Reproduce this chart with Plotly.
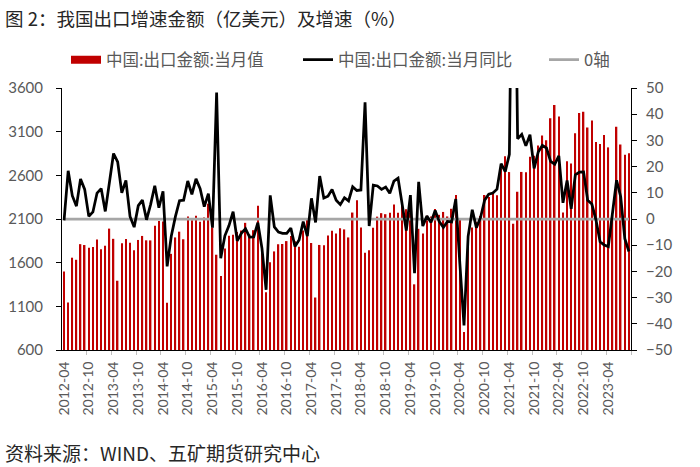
import plotly.graph_objects as go

# Monthly data, 138 months (category index 0..137)
exports = [
    1499, 1144, 1657, 1633, 1812, 1802, 1770, 1780, 1864, 1755, 1794, 1990,
    1873, 1393, 1821, 1870, 1828, 1743, 1860, 1906, 1856, 1855, 2022, 2077,
    2071, 1141, 1701, 1889, 1955, 1868, 2129, 2086, 2136, 2069, 2117, 2275,
    2003, 1691, 1446, 1763, 1907, 1920, 1951, 1968, 2056, 1924, 1972, 2253,
    1775, 1261, 1605, 1729, 1811, 1814, 1847, 1906, 1845, 1781, 1968, 2095,
    1825, 1201, 1803, 1800, 1912, 1966, 1935, 1994, 1981, 1889, 2174, 2315,
    2003, 1713, 1741, 2000, 2127, 2167, 2155, 2172, 2266, 2171, 2274, 2212,
    2176, 1352, 1988, 1934, 2138, 2128, 2215, 2148, 2181, 2129, 2217, 2375,
    2100, 805, 1851, 2003, 2068, 2135, 2375, 2352, 2394, 2372, 2680, 2818,
    2637, 2046, 2412, 2639, 2636, 2814, 2825, 2943, 3057, 3001, 3255, 3405,
    3274, 2173, 2760, 2736, 3082, 3313, 3329, 3149, 3227, 2983, 2959, 3061,
    2920, 2143, 3155, 2954, 2835, 2853,
]
yoy = [
    -0.5, 18.4, 8.9, 4.9, 15.3, 11.3, 1.0, 2.7, 9.9, 11.6, 2.9, 14.1,
    25.0, 21.8, 10.0, 14.7, 1.0, -3.1, 5.1, 7.2, -0.3, 5.6, 12.7, 4.3,
    10.6, -18.1, -6.6, 0.9, 7.0, 7.2, 14.5, 9.4, 15.3, 11.6, 4.7, 9.7,
    -3.3, 48.3, -15.0, -6.4, -2.5, 2.8, -8.3, -5.5, -3.7, -6.9, -6.8, -1.4,
    -11.2, -27.0, 9.0, -3.0, -5.0, -5.5, -5.5, -3.5, -10.5, -8.0, -1.0, -6.5,
    7.9, -1.3, 16.4, 8.0, 8.7, 11.3, 7.2, 5.5, 8.1, 6.9, 12.3, 10.9,
    11.1, 44.5, -2.7, 12.9, 12.6, 11.3, 12.2, 9.8, 14.5, 15.6, 5.4, -4.4,
    9.1, -20.7, 14.2, -2.7, 1.1, -1.3, 3.3, -1.0, -3.2, -0.9, -1.1, 7.6,
    -17.2, -40.6, -6.6, 3.5, -3.3, 0.5, 7.2, 9.5, 9.9, 11.4, 21.1, 18.1,
    24.7, 154.9, 30.6, 32.3, 27.9, 32.2, 19.3, 25.6, 28.1, 27.1, 22.0, 20.9,
    24.1, 6.2, 14.7, 3.9, 16.9, 17.9, 18.0, 7.1, 5.7, -0.3, -8.7, -9.9,
    -10.5, 2.0, 14.8, 8.5, -7.5, -12.4,
]
zero_axis = [0] * len(yoy)

tick_labels = [
    "2012-04", "2012-10", "2013-04", "2013-10", "2014-04", "2014-10",
    "2015-04", "2015-10", "2016-04", "2016-10", "2017-04", "2017-10",
    "2018-04", "2018-10", "2019-04", "2019-10", "2020-04", "2020-10",
    "2021-04", "2021-10", "2022-04", "2022-10", "2023-04",
]

x = list(range(len(exports)))
tick_pos = [i * 6 for i in range(len(tick_labels))]
minor_pos = [i * 6 - 0.5 for i in range(1, len(tick_labels) + 1)]

name_bar = "中国:出口金额:当月值"
name_line = "中国:出口金额:当月同比"
name_zero = "0轴"

CJK = "Noto Sans CJK SC"
NUM = "Lato"
GREY_TXT = "#595959"

ML, MR, MT, MB = 62, 69, 88, 117
PW = 700 - ML - MR
PH = 467 - MT - MB


def px_x(p):
    return (p - ML) / PW


def px_y(p):
    return 1 - (p - MT) / PH


fig = go.Figure()
fig.add_trace(go.Bar(
    x=x, y=exports, name=name_bar, marker=dict(color="#C00000", line=dict(width=0)),
    showlegend=False, legendgroup="bar", yaxis="y",
))
# legend swatch for bar series
fig.add_trace(go.Scatter(
    x=[None], y=[None], mode="lines", name=name_bar, legendgroup="bar",
    line=dict(color="#C00000", width=8), yaxis="y", legend="legend",
))
fig.add_trace(go.Scatter(
    x=x, y=zero_axis, mode="lines", name=name_zero, legend="legend3",
    line=dict(color="#A6A6A6", width=2.75), yaxis="y2",
))
fig.add_trace(go.Scatter(
    x=x, y=yoy, mode="lines", name=name_line, legend="legend2",
    line=dict(color="#000000", width=2.75), yaxis="y2",
))

leg_common = dict(orientation="h", xanchor="left", yanchor="middle", y=px_y(60),
                  font=dict(family=CJK, size=16.5, color=GREY_TXT), itemwidth=30,
                  bgcolor="rgba(0,0,0,0)")

fig.update_layout(
    width=700, height=467,
    margin=dict(l=ML, r=MR, t=MT, b=MB, autoexpand=False),
    paper_bgcolor="white", plot_bgcolor="white",
    bargap=0.64,
    showlegend=True,
    legend=dict(x=px_x(66), **leg_common),
    legend2=dict(x=px_x(298), **leg_common),
    legend3=dict(x=px_x(544), **leg_common),
    xaxis=dict(
        range=[-0.5, len(x) - 0.5], automargin=False,
        tickmode="array", tickvals=tick_pos, ticktext=tick_labels,
        tickangle=-90, ticks="", showgrid=False, zeroline=False,
        ticklabelstandoff=5,
        showline=True, linecolor="#000000", linewidth=1,
        tickfont=dict(family=NUM, size=14, color=GREY_TXT),
        minor=dict(tickmode="array", tickvals=minor_pos, ticks="outside",
                   ticklen=4, tickcolor="#BFBFBF", tickwidth=1),
    ),
    yaxis=dict(
        range=[600, 3600], tickmode="array", automargin=False,
        tickvals=[600, 1100, 1600, 2100, 2600, 3100, 3600],
        ticks="outside", ticklen=5, tickcolor="#000000",
        ticklabelstandoff=10,
        showline=True, linecolor="#000000", linewidth=1,
        showgrid=False, zeroline=False,
        tickfont=dict(family=NUM, size=15, color=GREY_TXT),
    ),
    yaxis2=dict(
        range=[-50, 50], overlaying="y", side="right", tickmode="linear",
        automargin=False,
        tick0=-50, dtick=10, ticks="outside", ticklen=5, tickcolor="#000000",
        ticklabelstandoff=6,
        showline=True, linecolor="#000000", linewidth=1,
        showgrid=False, zeroline=False,
        tickfont=dict(family=NUM, size=15, color=GREY_TXT),
    ),
    annotations=[
        dict(text="图 2：我国出口增速金额（亿美元）及增速（%）", xref="paper", yref="paper",
             x=px_x(3), y=px_y(18), xanchor="left", yanchor="middle",
             showarrow=False, font=dict(family=CJK, size=18.5, color="#262626")),
        dict(text="资料来源：WIND、五矿期货研究中心", xref="paper", yref="paper",
             x=px_x(3), y=px_y(452), xanchor="left", yanchor="middle",
             showarrow=False, font=dict(family=CJK, size=19, color="#262626")),
    ],
)

fig.write_html("out.html", config={"displayModeBar": False},
               post_script="document.body.style.margin='0';")
